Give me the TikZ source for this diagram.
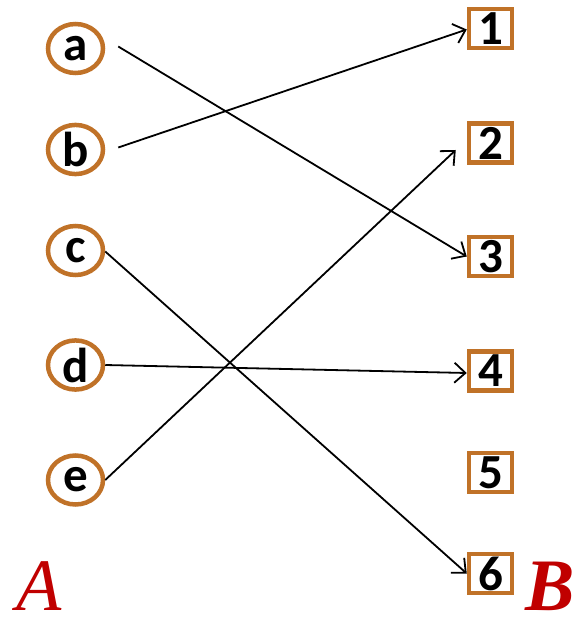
\documentclass[tikz,border=0pt]{standalone}
\usepackage{fontspec}
\setmainfont{Carlito}
\newfontfamily\serifit{Liberation Serif}
\usetikzlibrary{shapes.geometric,arrows.meta}
\definecolor{brn}{RGB}{192,114,40}
\definecolor{lblred}{RGB}{192,0,0}
\tikzset{
  elem/.style={ellipse,draw=brn,line width=4.5pt,minimum width=55pt,minimum height=49pt,inner sep=0pt,
    font=\fontsize{49}{49}\selectfont\bfseries},
  img/.style={rectangle,draw=brn,line width=4.5pt,minimum width=43pt,minimum height=39pt,inner sep=0pt,
    font=\fontsize{49}{49}\selectfont\bfseries},
  setlbl/.style={text=lblred,font=\serifit\itshape\fontsize{74}{74}\selectfont,inner sep=0pt},
  arr/.style={line width=1.8pt,-{Straight Barb[length=11pt,width=20pt,line width=1.8pt]}}
}
\begin{document}
\begin{tikzpicture}[x=1pt,y=-1pt]
\useasboundingbox (0,0) rectangle (575,620);
\node[elem] (a) at (75.5,48.5) {a};
\node[elem] (b) at (75.5,149.5) {b};
\node[elem] (c) at (75.5,250.5) {c};
\node[elem] (d) at (75.5,365) {d};
\node[elem] (e) at (75.5,480) {e};
\node[img] (n1) at (490.5,28.5) {1};
\node[img] (n2) at (490.5,143) {2};
\node[img] (n3) at (490.5,256.5) {3};
\node[img] (n4) at (490.5,371) {4};
\node[img] (n5) at (490.5,472.5) {5};
\node[img] (n6) at (490.5,573.5) {6};
\node[setlbl] (A) at (39,586) {A};
\node[setlbl,font=\serifit\bfseries\itshape\fontsize{74}{74}\selectfont] (B) at (550,586) {B};
\draw[arr] ([xshift=13pt,yshift=2pt]a.east) -- (n3.west);
\draw[arr] ([xshift=13pt,yshift=2pt]b.east) -- ([yshift=-1pt]n1.west);
\draw[arr] ([yshift=-1pt]c.east) -- (n6.west);
\draw[arr] (d.east) -- ([yshift=-2pt]n4.west);
\draw[arr] (e.east) -- ([xshift=-11pt,yshift=-7pt]n2.west);
\end{tikzpicture}
\end{document}
